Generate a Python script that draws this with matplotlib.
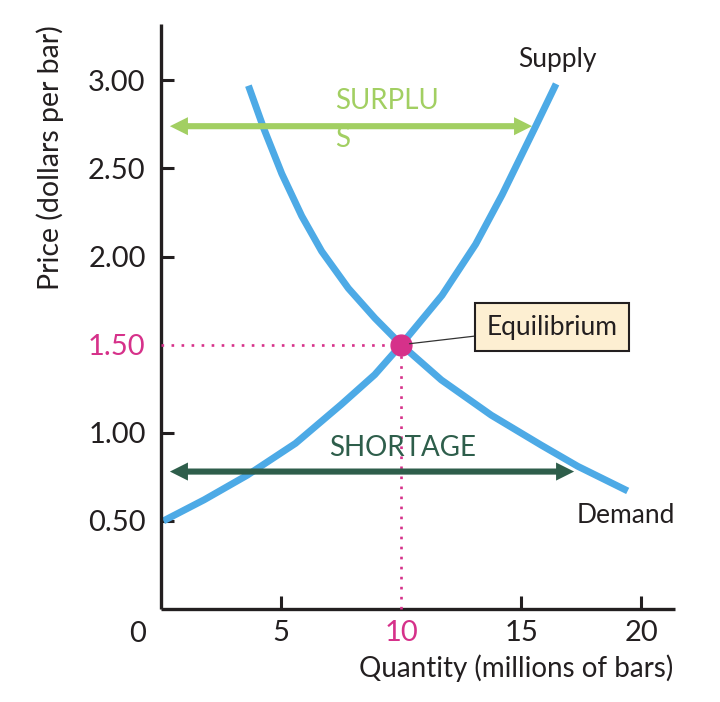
import matplotlib
matplotlib.use("Agg")
import matplotlib.pyplot as plt

# ---- data ----
supply_q = [0.1, 1.8, 3.6, 5.6, 7.5, 8.9, 10.0, 11.7, 13.1, 14.2, 15.6, 16.45]
supply_p = [0.50, 0.62, 0.76, 0.94, 1.16, 1.33, 1.50, 1.78, 2.07, 2.35, 2.74, 2.98]
demand_q = [3.64, 4.27, 5.03, 5.86, 6.69, 7.80, 8.91, 10.0, 11.67, 13.75, 15.83, 17.35, 19.43]
demand_p = [2.97, 2.73, 2.47, 2.23, 2.03, 1.82, 1.65, 1.50, 1.30, 1.10, 0.93, 0.81, 0.67]
eq_q, eq_p = 10.0, 1.50
surplus_p, surplus_q = 2.74, [0.37, 15.45]
shortage_p, shortage_q = 0.78, [0.37, 17.2]
x_ticks = [5, 10, 15, 20]
x_tick_labels = ["5", "10", "15", "20"]
y_ticks = [0.5, 1.0, 1.5, 2.0, 2.5, 3.0]
y_tick_labels = ["0.50", "1.00", "1.50", "2.00", "2.50", "3.00"]

BLUE = "#4DAAE6"
LGREEN = "#A2CF62"
DGREEN = "#2E5E4B"
MAGENTA = "#D6318A"
INK = "#231F20"
FONT = "Lato"

plt.rcParams["font.family"] = [FONT, "DejaVu Sans"]

fig = plt.figure(figsize=(7.2, 7.02), dpi=100)
ax = fig.add_axes([161 / 720, 93 / 702, (675 - 161) / 720, (678 - 93) / 702])
ax.set_xlim(0, 21.4)
ax.set_ylim(0, 3.32)

for s in ["top", "right"]:
    ax.spines[s].set_visible(False)
for s in ["left", "bottom"]:
    ax.spines[s].set_linewidth(2.4)
    ax.spines[s].set_color(INK)
    ax.spines[s].set_capstyle("butt")

ax.set_xticks(x_ticks)
ax.set_xticklabels(x_tick_labels)
ax.set_yticks(y_ticks)
ax.set_yticklabels(y_tick_labels)
ax.tick_params(axis="both", direction="in", length=9.4, width=2.2, color=INK,
               labelsize=21, labelcolor=INK)
ax.tick_params(axis="y", pad=11)
ax.tick_params(axis="x", pad=8)

# highlight equilibrium tick labels, hide their tick marks
for t, v in zip(ax.xaxis.get_major_ticks(), x_ticks):
    if v == eq_q:
        t.tick1line.set_visible(False)
        t.label1.set_color(MAGENTA)
for t, v in zip(ax.yaxis.get_major_ticks(), y_ticks):
    if v == eq_p:
        t.tick1line.set_visible(False)
        t.label1.set_color(MAGENTA)

ax.annotate("0", xy=(0, 0), xytext=(-17, -18), textcoords="offset points",
            ha="center", va="center", fontsize=21, color=INK, annotation_clip=False)

# curves
ax.plot(supply_q, supply_p, color=BLUE, lw=5, solid_capstyle="butt", solid_joinstyle="round", zorder=2, clip_on=False)
ax.plot(demand_q, demand_p, color=BLUE, lw=5, solid_capstyle="butt", solid_joinstyle="round", zorder=2, clip_on=False)

# dotted guide lines
ax.plot([0, eq_q], [eq_p, eq_p], color=MAGENTA, lw=1.9, ls=(0, (1, 2.8)), zorder=3, clip_on=False)
ax.plot([eq_q, eq_q], [0, eq_p], color=MAGENTA, lw=1.9, ls=(0, (1, 2.8)), zorder=3, clip_on=False)

# arrows
def double_arrow(q0, q1, p, color):
    mid = (q0 + q1) / 2
    style = "simple,head_length=0.65,head_width=0.65,tail_width=0.22"
    for end in (q0, q1):
        ax.annotate("", xy=(end, p), xytext=(mid, p),
                    arrowprops=dict(arrowstyle=style, mutation_scale=20, color=color,
                                    lw=0, shrinkA=0, shrinkB=0), zorder=4)

double_arrow(surplus_q[0], surplus_q[1], surplus_p, LGREEN)
double_arrow(shortage_q[0], shortage_q[1], shortage_p, DGREEN)

ax.text(7.24, 2.775, "SURPLU\nS", color=LGREEN, fontsize=20, ha="left", va="center",
        linespacing=1.55)
ax.text(10.07, 0.914, "SHORTAGE", color=DGREEN, fontsize=20, ha="center", va="center")

# equilibrium point
ax.plot([eq_q], [eq_p], "o", ms=15, color=MAGENTA, mec=MAGENTA, zorder=6)
ax.annotate("Equilibrium", xy=(eq_q, eq_p), xytext=(16.28, 1.60), ha="center", va="center",
            fontsize=19, color=INK, zorder=7,
            bbox=dict(boxstyle="square,pad=0.42", fc="#FDEFD2", ec=INK, lw=1.5),
            arrowprops=dict(arrowstyle="-", color="#333333", lw=0.9, shrinkA=0, shrinkB=6))

ax.text(16.49, 3.12, "Supply", fontsize=19, color=INK, ha="center", va="center")
ax.text(19.36, 0.528, "Demand", fontsize=19, color=INK, ha="center", va="center")

fig.text(50 / 720, 1 - 158 / 702, "Price (dollars per bar)", rotation=90, fontsize=20.5,
         color=INK, ha="center", va="center")
fig.text(673 / 720, 1 - 668 / 702, "Quantity (millions of bars)", fontsize=20,
         color=INK, ha="right", va="center")

fig.savefig("out.png", dpi=100)
